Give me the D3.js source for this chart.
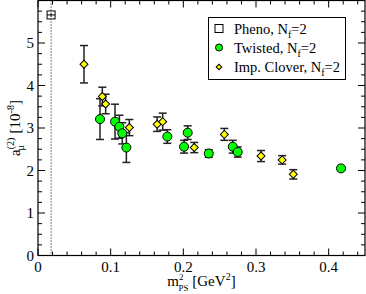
<!DOCTYPE html>
<html>
<head>
<meta charset="utf-8">
<script src="https://cdn.jsdelivr.net/npm/d3@7"></script>
<style>
  body { margin: 0; background: #fff; }
</style>
</head>
<body>
<script>
// values
var phenoX = [0.018],
    phenoY = [5.66],
    phenoErr = [0.05];

var twistedX = [0.0853, 0.106, 0.112, 0.116, 0.1216, 0.178, 0.201, 0.206, 0.235, 0.268, 0.2748, 0.417],
    twistedY = [3.21, 3.15, 3.03, 2.875, 2.54, 2.80, 2.56, 2.89, 2.40, 2.56, 2.435, 2.05],
    twistedErr = [0.48, 0.41, 0.27, 0.25, 0.35, 0.16, 0.15, 0.16, 0.09, 0.15, 0.12, 0.05];

var cloverX = [0.0633, 0.0885, 0.0931, 0.1257, 0.164, 0.1716, 0.215, 0.2564, 0.3069, 0.336, 0.3513],
    cloverY = [4.50, 3.74, 3.565, 3.01, 3.09, 3.15, 2.54, 2.85, 2.34, 2.25, 1.91],
    cloverErr = [0.44, 0.22, 0.23, 0.19, 0.17, 0.20, 0.12, 0.14, 0.13, 0.10, 0.11];

var xTicks = [0, 0.1, 0.2, 0.3, 0.4],
    yTicks = [0, 1, 2, 3, 4, 5];

var W = 366, H = 294;
var pLeft = 38, pRight = 365, pTop = 0.5, pBottom = 255.5;
var serif = "'Liberation Serif', 'Times New Roman', 'DejaVu Serif', serif";

var x = d3.scaleLinear().domain([0, 0.45]).range([pLeft, pRight]);
var y = d3.scaleLinear().domain([0, 6]).range([pBottom, pTop]);

var svg = d3.select("body").append("svg")
    .attr("width", W)
    .attr("height", H)
    .attr("font-family", serif);

// ticks on all four sides, pointing inward
var xMinor = d3.range(0, 0.4501, 0.02).filter(v => Math.abs(v * 10 - Math.round(v * 10)) > 1e-6);
var yMinor = d3.range(0, 6.001, 0.25).filter(v => Math.abs(v - Math.round(v)) > 1e-6);

var tk = svg.append("g").attr("stroke", "#000").attr("stroke-width", 1);
xTicks.forEach(v => {
    tk.append("line").attr("x1", x(v)).attr("x2", x(v)).attr("y1", pBottom).attr("y2", pBottom - 7);
    tk.append("line").attr("x1", x(v)).attr("x2", x(v)).attr("y1", pTop).attr("y2", pTop + 7);
});
xMinor.forEach(v => {
    tk.append("line").attr("x1", x(v)).attr("x2", x(v)).attr("y1", pBottom).attr("y2", pBottom - 4);
    tk.append("line").attr("x1", x(v)).attr("x2", x(v)).attr("y1", pTop).attr("y2", pTop + 4);
});
yTicks.concat([6]).forEach(v => {
    tk.append("line").attr("y1", y(v)).attr("y2", y(v)).attr("x1", pLeft).attr("x2", pLeft + 7);
    tk.append("line").attr("y1", y(v)).attr("y2", y(v)).attr("x1", pRight).attr("x2", pRight - 7);
});
yMinor.forEach(v => {
    tk.append("line").attr("y1", y(v)).attr("y2", y(v)).attr("x1", pLeft).attr("x2", pLeft + 4);
    tk.append("line").attr("y1", y(v)).attr("y2", y(v)).attr("x1", pRight).attr("x2", pRight - 4);
});

// tick labels
svg.append("g").selectAll("text")
    .data(xTicks)
    .enter().append("text")
    .attr("x", d => x(d))
    .attr("y", pBottom + 16)
    .attr("text-anchor", "middle")
    .attr("font-size", 15)
    .text(d => d === 0 ? "0" : d3.format(".1f")(d));

svg.append("g").selectAll("text")
    .data(yTicks)
    .enter().append("text")
    .attr("x", pLeft - 4)
    .attr("y", d => y(d) + 5)
    .attr("text-anchor", "end")
    .attr("font-size", 15)
    .text(d => d);

// dotted vertical line at the physical point
svg.append("line")
    .attr("x1", x(phenoX[0])).attr("x2", x(phenoX[0]))
    .attr("y1", pTop).attr("y2", pBottom)
    .attr("stroke", "#000")
    .attr("stroke-width", 1)
    .attr("stroke-dasharray", "1,2");

// error bars
function errBars(xs, ys, es) {
    var g = svg.append("g").attr("stroke", "#222").attr("stroke-width", 1.5);
    xs.forEach((xv, i) => {
        var cx = x(xv), y1 = y(ys[i] + es[i]), y2 = y(ys[i] - es[i]);
        g.append("line").attr("x1", cx).attr("x2", cx).attr("y1", y1).attr("y2", y2);
        g.append("line").attr("x1", cx - 4).attr("x2", cx + 4).attr("y1", y1).attr("y2", y1);
        g.append("line").attr("x1", cx - 4).attr("x2", cx + 4).attr("y1", y2).attr("y2", y2);
    });
}

errBars(cloverX, cloverY, cloverErr);
errBars(twistedX, twistedY, twistedErr);

svg.append("g").selectAll("path")
    .data(cloverX)
    .enter().append("path")
    .attr("d", d3.symbol().type(d3.symbolSquare).size(32))
    .attr("transform", (d, i) => "translate(" + x(d) + "," + y(cloverY[i]) + ") rotate(45)")
    .attr("fill", "#ffff00")
    .attr("stroke", "#000")
    .attr("stroke-width", 1);

svg.append("g").selectAll("circle")
    .data(twistedX)
    .enter().append("circle")
    .attr("cx", d => x(d))
    .attr("cy", (d, i) => y(twistedY[i]))
    .attr("r", 4.5)
    .attr("fill", "#00ff00")
    .attr("stroke", "#000")
    .attr("stroke-width", 1);

// pheno square with its error bar
phenoX.forEach((d, i) => {
    var cx = x(d), cy = y(phenoY[i]);
    svg.append("rect")
        .attr("x", cx - 4).attr("y", cy - 4)
        .attr("width", 8).attr("height", 8)
        .attr("fill", "#fff").attr("stroke", "#000").attr("stroke-width", 1);
    svg.append("line").attr("x1", cx).attr("x2", cx)
        .attr("y1", y(phenoY[i] + phenoErr[i])).attr("y2", y(phenoY[i] - phenoErr[i]))
        .attr("stroke", "#000");
    svg.append("line").attr("x1", cx - 4).attr("x2", cx + 4)
        .attr("y1", cy).attr("y2", cy)
        .attr("stroke", "#000");
});

// frame
svg.append("rect")
    .attr("x", pLeft).attr("y", pTop)
    .attr("width", pRight - pLeft).attr("height", pBottom - pTop)
    .attr("fill", "none")
    .attr("stroke", "#000")
    .attr("stroke-width", 1.2);

// legend
var lg = svg.append("g");
lg.append("rect")
    .attr("x", 208.5).attr("y", 17.5)
    .attr("width", 137).attr("height", 62)
    .attr("fill", "#fff").attr("stroke", "#000").attr("stroke-width", 1);

var legendNames = ["Pheno, N", "Twisted, N", "Imp. Clover, N"];
var legendY = [28.5, 47.5, 67];

lg.append("rect").attr("x", 215).attr("y", legendY[0] - 4).attr("width", 8).attr("height", 8)
    .attr("fill", "#fff").attr("stroke", "#000");
lg.append("circle").attr("cx", 219).attr("cy", legendY[1]).attr("r", 3.5)
    .attr("fill", "#00ff00").attr("stroke", "#000");
lg.append("path").attr("d", d3.symbol().type(d3.symbolSquare).size(16))
    .attr("transform", "translate(219," + legendY[2] + ") rotate(45)")
    .attr("fill", "#ffff00").attr("stroke", "#000");

legendNames.forEach((n, i) => {
    var t = lg.append("text")
        .attr("x", 234)
        .attr("y", legendY[i] + 5)
        .attr("font-size", 14.5);
    t.append("tspan").text(n);
    t.append("tspan").attr("font-size", 10).attr("dy", 4).text("f");
    t.append("tspan").attr("dy", -4).text("=2");
});

// axis titles
var xl = svg.append("text")
    .attr("x", (pLeft + pRight) / 2)
    .attr("y", 286)
    .attr("text-anchor", "middle")
    .attr("font-size", 15);
xl.append("tspan").text("m");
xl.append("tspan").attr("font-size", 9).attr("dy", -6).text("2");
xl.append("tspan").attr("font-size", 9).attr("dx", -5).attr("dy", 11).text("PS");
xl.append("tspan").attr("dy", -5).text(" [GeV");
xl.append("tspan").attr("font-size", 10).attr("dy", -6).text("2");
xl.append("tspan").attr("dy", 6).text("]");

var yl = svg.append("text")
    .attr("transform", "translate(20," + ((pTop + pBottom) / 2) + ") rotate(-90)")
    .attr("text-anchor", "middle")
    .attr("font-size", 15);
yl.append("tspan").text("a");
yl.append("tspan").attr("font-size", 10).attr("dy", -6).text("(2)");
yl.append("tspan").attr("font-size", 10).attr("dx", -13).attr("dy", 10).text("\u03bc");
yl.append("tspan").attr("dx", 8).attr("dy", -4).text(" [10");
yl.append("tspan").attr("font-size", 10).attr("dy", -6).text("-8");
yl.append("tspan").attr("dy", 6).text("]");
</script>
</body>
</html>
